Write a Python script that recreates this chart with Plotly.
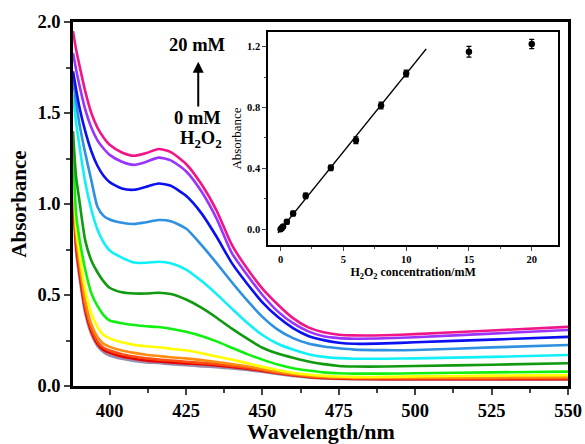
import plotly.graph_objects as go

# ---------------- data ----------------
wavelength = [388, 389, 390, 392, 394, 396, 398, 400, 404, 408, 412, 416, 420, 425,
              430, 435, 440, 445, 450, 455, 460, 465, 470, 475, 480, 490, 500, 525, 550]

conc_labels = ["20 mM", "15 mM", "10 mM", "8 mM", "6 mM", "4 mM", "2 mM", "1 mM",
               "0.5 mM", "0.2 mM", "0.1 mM", "0 mM"]

abs_20 = [1.95, 1.85, 1.77, 1.62, 1.50, 1.42, 1.365, 1.325, 1.283, 1.265, 1.28, 1.302, 1.285, 1.22,
          1.11, 0.964, 0.775, 0.645, 0.535, 0.448, 0.373, 0.322, 0.295, 0.282, 0.278, 0.279, 0.285, 0.305, 0.325]
abs_15 = [1.83, 1.74, 1.66, 1.52, 1.42, 1.35, 1.305, 1.27, 1.232, 1.215, 1.232, 1.255, 1.24, 1.18,
          1.07, 0.92, 0.73, 0.61, 0.50, 0.41, 0.345, 0.30, 0.273, 0.263, 0.26, 0.262, 0.268, 0.288, 0.308]
abs_10 = [1.73, 1.63, 1.54, 1.40, 1.29, 1.21, 1.155, 1.12, 1.085, 1.078, 1.095, 1.113, 1.10, 1.045,
          0.95, 0.82, 0.675, 0.562, 0.46, 0.38, 0.318, 0.275, 0.252, 0.238, 0.232, 0.234, 0.24, 0.255, 0.27]
abs_8 = [1.68, 1.56, 1.45, 1.28, 1.13, 0.985, 0.935, 0.915, 0.897, 0.89, 0.90, 0.912, 0.905, 0.865,
         0.775, 0.675, 0.57, 0.47, 0.38, 0.31, 0.263, 0.233, 0.217, 0.207, 0.2, 0.197, 0.198, 0.212, 0.225]
abs_6 = [1.60, 1.45, 1.33, 1.12, 0.97, 0.86, 0.79, 0.745, 0.705, 0.678, 0.677, 0.683, 0.675, 0.64,
         0.578, 0.505, 0.425, 0.347, 0.28, 0.232, 0.20, 0.175, 0.16, 0.153, 0.15, 0.15, 0.152, 0.16, 0.17]
abs_4 = [1.40, 1.15, 1.03, 0.80, 0.69, 0.625, 0.575, 0.54, 0.515, 0.508, 0.508, 0.512, 0.505, 0.475,
         0.43, 0.375, 0.315, 0.26, 0.21, 0.178, 0.155, 0.135, 0.12, 0.11, 0.107, 0.107, 0.11, 0.117, 0.125]
abs_2 = [1.30, 0.95, 0.82, 0.64, 0.51, 0.44, 0.39, 0.36, 0.345, 0.335, 0.328, 0.324, 0.315, 0.298,
         0.275, 0.245, 0.21, 0.175, 0.145, 0.118, 0.098, 0.085, 0.075, 0.07, 0.068, 0.068, 0.07, 0.075, 0.079]
abs_1 = [1.24, 0.88, 0.74, 0.53, 0.40, 0.325, 0.28, 0.262, 0.24, 0.226, 0.218, 0.213, 0.205, 0.196,
         0.18, 0.162, 0.145, 0.125, 0.105, 0.088, 0.073, 0.063, 0.056, 0.052, 0.05, 0.05, 0.053, 0.057, 0.06]
abs_05 = [1.17, 0.84, 0.70, 0.47, 0.34, 0.27, 0.232, 0.215, 0.195, 0.182, 0.172, 0.165, 0.158, 0.152,
          0.142, 0.132, 0.12, 0.108, 0.093, 0.078, 0.066, 0.057, 0.051, 0.048, 0.046, 0.045, 0.045, 0.047, 0.048]
abs_02 = [1.12, 0.81, 0.67, 0.44, 0.315, 0.245, 0.21, 0.195, 0.175, 0.162, 0.152, 0.145, 0.14, 0.133,
          0.127, 0.12, 0.11, 0.10, 0.087, 0.073, 0.062, 0.053, 0.047, 0.044, 0.042, 0.041, 0.041, 0.042, 0.043]
abs_01 = [1.08, 0.78, 0.64, 0.42, 0.30, 0.232, 0.198, 0.182, 0.162, 0.15, 0.141, 0.135, 0.13, 0.124,
          0.12, 0.113, 0.104, 0.095, 0.083, 0.07, 0.059, 0.05, 0.044, 0.041, 0.039, 0.038, 0.038, 0.038, 0.038]
abs_0 = [1.02, 0.74, 0.61, 0.40, 0.285, 0.22, 0.185, 0.168, 0.15, 0.138, 0.13, 0.126, 0.12, 0.114,
         0.108, 0.103, 0.096, 0.088, 0.078, 0.066, 0.055, 0.047, 0.042, 0.039, 0.037, 0.036, 0.036, 0.036, 0.036]

curve_colors = ["#F0168A", "#9933FF", "#0A10F0", "#2E90E0", "#10F0F8", "#109A10",
                "#10F010", "#FFFF00", "#FF8C10", "#FF4A10", "#E80000", "#9A8AAA"]

# inset calibration data
inset_conc = [0, 0.1, 0.2, 0.5, 1, 2, 4, 6, 8, 10, 15, 20]
inset_abs = [0.0, 0.008, 0.018, 0.048, 0.103, 0.219, 0.403, 0.585, 0.813, 1.024, 1.166, 1.217]
inset_err = [0.012, 0.012, 0.012, 0.015, 0.015, 0.018, 0.018, 0.022, 0.022, 0.022, 0.035, 0.03]
fit_slope = 0.1025
fit_intercept = -0.004
fit_x = [-0.2, 11.6]

# ---------------- figure ----------------
FONT = "Liberation Serif, Times New Roman, serif"
all_curves = [abs_20, abs_15, abs_10, abs_8, abs_6, abs_4, abs_2, abs_1, abs_05, abs_02, abs_01, abs_0]

fig = go.Figure()
for vals, col, name in reversed(list(zip(all_curves, curve_colors, conc_labels))):
    fig.add_trace(go.Scatter(x=wavelength, y=vals, mode="lines", name=name,
                             line=dict(color=col, width=2.6, shape="spline", smoothing=0.6),
                             xaxis="x", yaxis="y", showlegend=False))

fig.add_trace(go.Scatter(x=fit_x, y=[fit_intercept + fit_slope * v for v in fit_x],
                         mode="lines", line=dict(color="black", width=1.5),
                         xaxis="x2", yaxis="y2", showlegend=False))
fig.add_trace(go.Scatter(x=inset_conc, y=inset_abs, mode="markers",
                         marker=dict(color="black", size=6.5),
                         error_y=dict(type="data", array=inset_err, color="black", thickness=1.3, width=2.5),
                         xaxis="x2", yaxis="y2", showlegend=False))

fig.update_layout(
    width=585, height=444,
    margin=dict(l=73, r=17, t=22, b=58),
    paper_bgcolor="white", plot_bgcolor="white",
    font=dict(family=FONT, color="black"),
    xaxis=dict(range=[388, 550], tick0=400, dtick=25, ticks="outside", ticklen=6, tickwidth=2,
               showline=True, linewidth=2.5, linecolor="black", mirror=True,
               showgrid=False, zeroline=False, automargin=False,
               minor=dict(ticks="outside", ticklen=4, tickwidth=2, dtick=12.5, tick0=400, showgrid=False),
               tickfont=dict(size=18.5, family=FONT, weight="bold")),
    yaxis=dict(range=[0, 2.0], dtick=0.5, tickformat=".1f", ticks="outside", ticklen=6, tickwidth=2,
               showline=True, linewidth=2.5, linecolor="black", mirror=True,
               showgrid=False, zeroline=False, automargin=False,
               minor=dict(ticks="outside", ticklen=4, tickwidth=2, dtick=0.25, showgrid=False),
               tickfont=dict(size=18.5, family=FONT, weight="bold"),
               title=dict(text="Absorbance", font=dict(size=21, family=FONT, weight="bold"), standoff=6)),
    xaxis2=dict(domain=[0.394, 0.980], anchor="y2", range=[-1.0, 22.1], dtick=5, tick0=0,
                ticks="outside", ticklen=4, tickwidth=1.3,
                showline=True, linewidth=1.5, linecolor="black", mirror=True,
                showgrid=False, zeroline=False, automargin=False,
                minor=dict(ticks="outside", ticklen=2.5, tickwidth=1.2, dtick=2.5, tick0=0, showgrid=False),
                tickfont=dict(size=10.5, family=FONT, weight="bold"),
                title=dict(text="H<sub>2</sub>O<sub>2</sub> concentration/mM",
                           font=dict(size=12, family=FONT, weight="bold"), standoff=1)),
    yaxis2=dict(domain=[0.387, 0.9725], anchor="x2", range=[-0.105, 1.296], dtick=0.4, tick0=0,
                tickformat=".1f", ticks="outside", ticklen=4, tickwidth=1.3,
                showline=True, linewidth=1.5, linecolor="black", mirror=True,
                showgrid=False, zeroline=False, automargin=False,
                minor=dict(ticks="outside", ticklen=2.5, tickwidth=1.2, dtick=0.2, tick0=0, showgrid=False),
                tickfont=dict(size=10.5, family=FONT, weight="bold"),
                title=dict(text="Absorbance", font=dict(size=13, family=FONT), standoff=2)),
)

# main x-axis title (placed as an annotation so it can sit low, as in the original)
fig.add_annotation(xref="x domain", yref="y domain", x=0.5, y=-0.124, text="Wavelength/nm",
                   xanchor="center", yanchor="middle", showarrow=False,
                   font=dict(size=22, family=FONT, weight="bold", color="black"))

ann_font = dict(size=18.5, family=FONT, weight="bold", color="black")
fig.add_annotation(xref="paper", yref="paper", x=0.2505, y=0.9376, text="20 mM",
                   xanchor="center", yanchor="middle", showarrow=False, font=ann_font)
fig.add_annotation(xref="paper", yref="paper", x=0.2515, y=0.737, text="0 mM",
                   xanchor="center", yanchor="middle", showarrow=False, font=ann_font)
fig.add_annotation(xref="paper", yref="paper", x=0.2576, y=0.676,
                   text="H<sub>2</sub>O<sub>2</sub>", xanchor="center", yanchor="middle",
                   showarrow=False, font=ann_font)
fig.add_annotation(xref="x domain", yref="y domain", axref="x domain", ayref="y domain",
                   x=0.253, y=0.891, ax=0.253, ay=0.764, text="",
                   showarrow=True, arrowhead=2, arrowsize=1.1, arrowwidth=2, arrowcolor="black")

fig.write_html("out.html", config={"displayModeBar": False},
               post_script="document.body.style.margin='0px';document.body.style.overflow='hidden';")
